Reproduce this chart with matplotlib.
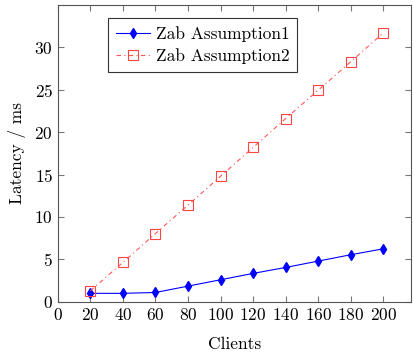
import numpy as np
import matplotlib
matplotlib.use("Agg")
import matplotlib.pyplot as plt

# Data
clients = [20, 40, 60, 80, 100, 120, 140, 160, 180, 200]
zab1 = [1.0, 1.0, 1.1, 1.85, 2.6, 3.35, 4.05, 4.8, 5.55, 6.25]
zab2 = [1.3, 4.65, 8.05, 11.4, 14.8, 18.2, 21.6, 24.95, 28.3, 31.7]
xticks = [0, 20, 40, 60, 80, 100, 120, 140, 160, 180, 200]
yticks = [0, 5, 10, 15, 20, 25, 30]

plt.rcParams['font.family'] = 'serif'
plt.rcParams['font.serif'] = ['cmr10', 'DejaVu Serif']
plt.rcParams['axes.formatter.use_mathtext'] = True

fig = plt.figure(figsize=(4.13, 3.53), dpi=100)
ax = fig.add_axes([0.140, 0.145, 0.855, 0.841])

ax.plot(clients, zab1, color="blue", linewidth=0.8, marker="d",
        markersize=5.5, label="Zab Assumption1")
ax.plot(clients, zab2, color="#ff5555", linewidth=0.8, linestyle=(0, (4, 3, 1, 3)),
        marker="s", markersize=7, markerfacecolor="none", markeredgecolor="#ff4444",
        markeredgewidth=0.8, label="Zab Assumption2")

ax.set_xlim(0, 217)
ax.set_ylim(0, 35)
ax.set_xticks(xticks)
ax.set_yticks(yticks)
ax.tick_params(direction="in", top=True, right=True, labelsize=12.5,
               color="#777777", length=4)
for s in ax.spines.values():
    s.set_color("#555555")
    s.set_linewidth(0.8)

ax.set_xlabel("Clients", fontsize=12.5, labelpad=10)
ax.set_ylabel("Latency / ms", fontsize=12.5, labelpad=6)

leg = ax.legend(loc="upper left", bbox_to_anchor=(0.142, 0.955), fontsize=12.5,
                fancybox=False, edgecolor="#333333", framealpha=1,
                handlelength=2.0, handletextpad=0.3, borderpad=0.45,
                labelspacing=0.35, borderaxespad=0)
leg.get_frame().set_linewidth(0.8)

plt.savefig("out.png", dpi=100)
